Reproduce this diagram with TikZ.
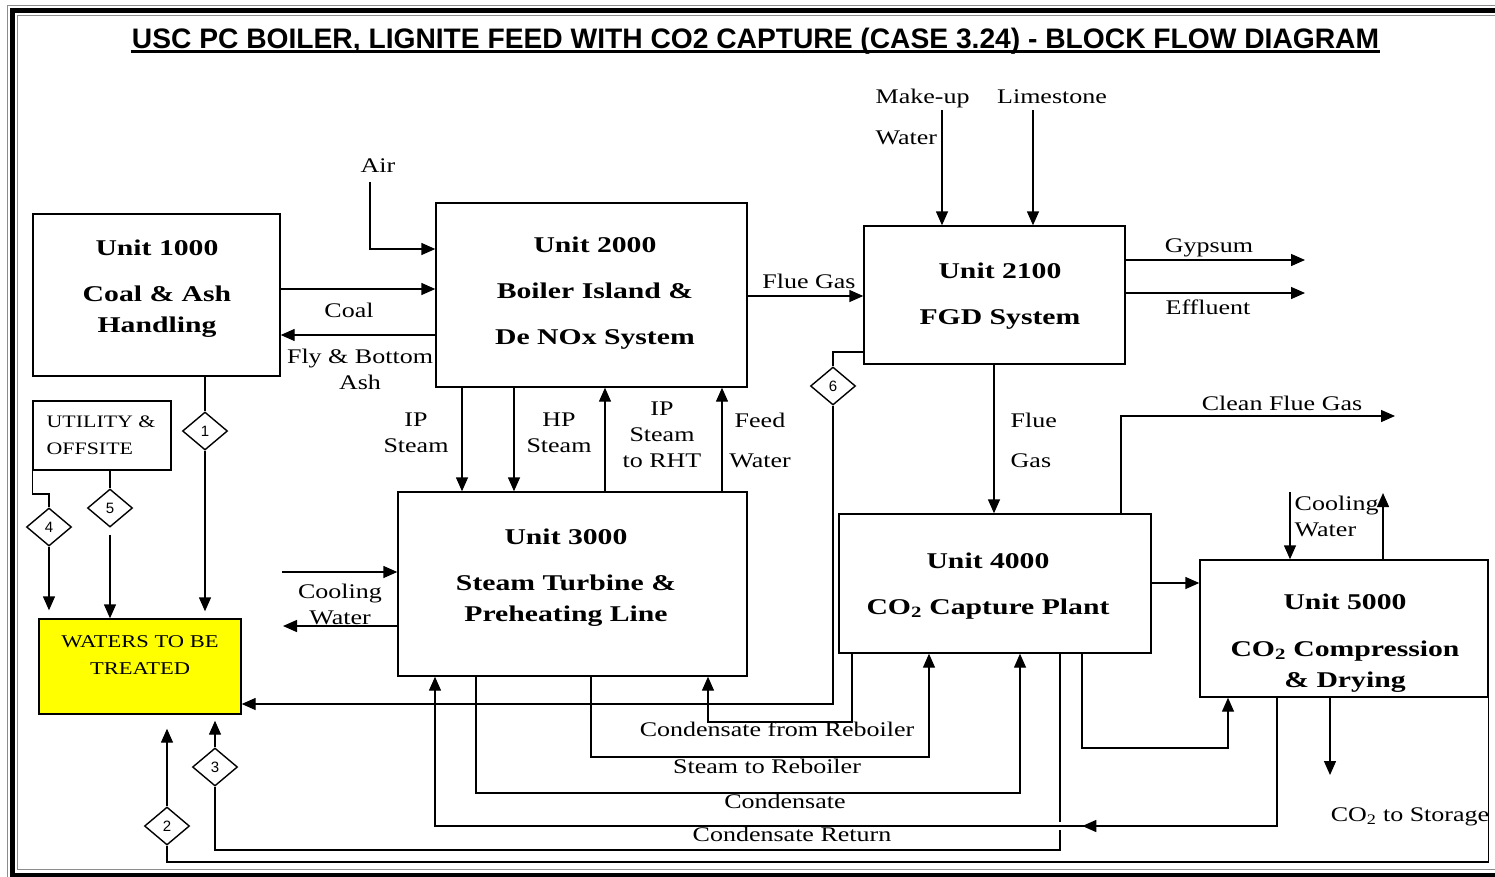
\documentclass[tikz,border=0pt]{standalone}
\usepackage{fontspec}
\setmainfont{Liberation Serif}[FakeStretch=1.25]
\newfontfamily\unitfont{Liberation Serif}[FakeStretch=1.32]
\newfontfamily\headfont{Liberation Sans}
\usepackage{tikz}
\usetikzlibrary{arrows.meta}
\usetikzlibrary{shapes.geometric}
\usetikzlibrary{decorations.markings}
\definecolor{wateryellow}{RGB}{255,255,0}

\begin{document}
\begin{tikzpicture}[
x=1pt, y=-1pt,
every path/.style={line width=1.4pt},
>={Triangle[length=14pt,width=12pt]},
unit/.style={draw, rectangle, inner sep=0},
unittext/.style={align=center, font=\unitfont\bfseries\fontsize{22.5}{31}\selectfont},
lbl/.style={inner sep=0, font=\fontsize{20.8}{26}\selectfont},
tag/.style={diamond, draw, fill=white, minimum width=45pt, minimum height=38pt, inner sep=0, font=\headfont\fontsize{15}{15}\selectfont}
]
\useasboundingbox (0,0) rectangle (1495,876);

\draw[line width=0.8pt, black!45] (7,880) -- (7,5) -- (1500,5);
\draw[line width=5pt] (12.5,880) -- (12.5,10.5) -- (1500,10.5);
\draw[line width=0.8pt, black!45] (1500,869) -- (17,869) -- (17,15) -- (1500,15);
\draw[line width=5pt] (10,875) -- (1500,875);

\node[anchor=base, inner sep=0, font=\headfont\bfseries\fontsize{28.2}{30}\selectfont] (title) at (755.5,48) {USC PC BOILER, LIGNITE FEED WITH CO2 CAPTURE (CASE 3.24) - BLOCK FLOW DIAGRAM};
\draw[line width=2.8pt] ([yshift=-3.5pt]title.base west) -- ([yshift=-3.5pt]title.base east);

\node[unit, minimum width=247pt, minimum height=162pt] (u1000) at (156.5,295) {};
\node[unit, minimum width=311pt, minimum height=184pt] (u2000) at (591.5,295) {};
\node[unit, minimum width=261pt, minimum height=138pt] (u2100) at (994.5,295) {};
\node[unit, minimum width=349pt, minimum height=184pt] (u3000) at (572.5,584) {};
\node[unit, minimum width=312pt, minimum height=139pt] (u4000) at (995,583.5) {};
\node[unit, minimum width=288pt, minimum height=137pt] (u5000) at (1344,628.5) {};
\node[unit, minimum width=138pt, minimum height=69pt] (utility) at (102,435.5) {};
\node[unit, fill=wateryellow, minimum width=202pt, minimum height=95pt] (waters) at (140,666.5) {};

\node[unittext] (u1000txt) at (157,289) {Unit 1000\\[15pt]Coal \& Ash\\Handling};
\node[unittext] (u2000txt) at (595,293) {Unit 2000\\[15pt]Boiler Island \&\\[15pt]De NOx System};
\node[unittext] (u2100txt) at (1000,296) {Unit 2100\\[15pt]FGD System};
\node[unittext] (u3000txt) at (566,578) {Unit 3000\\[15pt]Steam Turbine \&\\Preheating Line};
\node[unittext] (u4000txt) at (988,586) {Unit 4000\\[15pt]CO\textsubscript{2} Capture Plant};
\node[unittext] (u5000txt) at (1345,643) {Unit 5000\\[16pt]CO\textsubscript{2} Compression\\\& Drying};
\node[lbl, anchor=west, align=left, font=\fontsize{17.5}{27}\selectfont] (utiltxt) at (46,435) {UTILITY \&\\OFFSITE};
\node[lbl, align=center, font=\fontsize{18}{27}\selectfont] (waterstxt) at (140,655) {WATERS TO BE\\TREATED};

\node[tag] (d1) at (205,431) {1};
\node[tag] (d2) at (167,826) {2};
\node[tag] (d3) at (215,767) {3};
\node[tag] (d4) at (49,527) {4};
\node[tag] (d5) at (110,508) {5};
\node[tag] (d6) at (833,386) {6};

\coordinate (air) at (370,182);
\coordinate (makeup) at (942,110);
\coordinate (lime) at (1033,110);
\coordinate (gypsum) at (1305,260);
\coordinate (effluent) at (1305,293);
\coordinate (cleangas) at (1395,416);
\coordinate (cwin5) at (1290,492);
\coordinate (cwout5) at (1383,493);
\coordinate (storage) at (1330,775);
\coordinate (cwin3) at (282,572);
\coordinate (cwout3) at (283,626);

\draw[->] (air) |- (u2000.west |- 0,249);
\draw[->] (u1000.east |- 0,289) -- (u2000.west |- 0,289);
\draw[->] (u2000.west |- 0,335) -- (u1000.east |- 0,335);
\draw[->] (u2000.east |- 0,296) -- (u2100.west |- 0,296);
\draw[->] (makeup) -- (makeup |- u2100.north);
\draw[->] (lime) -- (lime |- u2100.north);
\draw[->] (u2100.east |- gypsum) -- (gypsum);
\draw[->] (u2100.east |- effluent) -- (effluent);
\draw[->] (994,0 |- u2100.south) -- (994,0 |- u4000.north);
\draw[->] (1121,0 |- u4000.north) |- (cleangas);
\draw[->] (u4000.east |- 0,583) -- (u5000.west |- 0,583);
\draw[->] (cwin5) -- (cwin5 |- u5000.north);
\draw[->] (cwout5 |- u5000.north) -- (cwout5);
\draw[->] (1082,0 |- u4000.south) -- (1082,748) -| (1228,0 |- u5000.south);
\draw[->] (storage |- u5000.south) -- (storage);
\draw[->] (462,0 |- u2000.south) -- (462,0 |- u3000.north);
\draw[->] (514,0 |- u2000.south) -- (514,0 |- u3000.north);
\draw[->] (605,0 |- u3000.north) -- (605,0 |- u2000.south);
\draw[->] (722,0 |- u3000.north) -- (722,0 |- u2000.south);
\draw[->] (cwin3) -- (u3000.west |- cwin3);
\draw[->] (u3000.west |- cwout3) -- (cwout3);
\draw[->] (852,0 |- u4000.south) -- (852,722) -| (708,0 |- u3000.south);
\draw[->] (591,0 |- u3000.south) -- (591,757) -| (929,0 |- u4000.south);
\draw[->] (476,0 |- u3000.south) -- (476,793) -| (1020,0 |- u4000.south);
\draw[->, shorten >=6pt] (1060,0 |- u4000.south) -- (1060,850) -| (d3) -- (d3 |- waters.south);
\draw[->, preaction={draw=white, line width=8pt, -, shorten <=3pt, shorten >=3pt},
  postaction={decorate}, decoration={markings, mark=at position 323pt with {\arrow{>}}}]
  (1277,0 |- u5000.south) -- (1277,826) -| (435,0 |- u3000.south);
\draw[->] (u2100.west |- 0,352) -| (d6) -- (d6 |- 0,704) -- (waters.east |- 0,704);
\draw[->, shorten >=14pt] (u5000.south east) -- (u5000.south east |- 0,862) -| (d2) -- (d2 |- waters.south);
\draw[->, shorten >=7pt] (d1 |- u1000.south) -- (d1) -- (d1 |- waters.north);
\draw[->, shorten >=8pt] (utility.south west) -- (utility.south west |- 0,494) -| (d4) -- (d4 |- waters.north);
\draw[->, shorten <=7pt] (d5 |- utility.south) -- (d5) -- (d5 |- waters.north);

\node[lbl] (airlbl) at (378,166) {Air};
\node[lbl] (coallbl) at (349,310) {Coal};
\node[lbl, align=center] (ashlbl) at (360,369) {Fly \& Bottom\\Ash};
\node[lbl] (fluelbl) at (809,281) {Flue Gas};
\node[lbl, anchor=west, align=left] (makeuplbl) at (875,117) {Make-up\\[15pt]Water};
\node[lbl] (limelbl) at (1052,97) {Limestone};
\node[lbl] (gypsumlbl) at (1209,248) {Gypsum};
\node[lbl] (effluentlbl) at (1208,307) {Effluent};
\node[lbl, anchor=west, align=left] (fgaslbl) at (1010,440) {Flue\\[14pt]Gas};
\node[lbl] (cleanlbl) at (1282,403) {Clean Flue Gas};
\node[lbl, anchor=west, align=left] (cw5lbl) at (1294,516) {Cooling\\Water};
\node[lbl] (storagelbl) at (1410,817) {CO\textsubscript{2} to Storage};
\node[lbl, align=center] (iplbl) at (416,433) {IP\\Steam};
\node[lbl, align=center] (hplbl) at (559,433) {HP\\Steam};
\node[lbl, align=center] (rhtlbl) at (662,435) {IP\\Steam\\to RHT};
\node[lbl, align=center] (feedlbl) at (760,440) {Feed\\[14pt]Water};
\node[lbl, align=center] (cw3lbl) at (340,604) {Cooling\\Water};
\node[lbl] (crlbl) at (777,729) {Condensate from Reboiler};
\node[lbl] (srlbl) at (767,766) {Steam to Reboiler};
\node[lbl] (condlbl) at (785,801) {Condensate};
\node[lbl] (retlbl) at (792,834) {Condensate Return};
\end{tikzpicture}
\end{document}
